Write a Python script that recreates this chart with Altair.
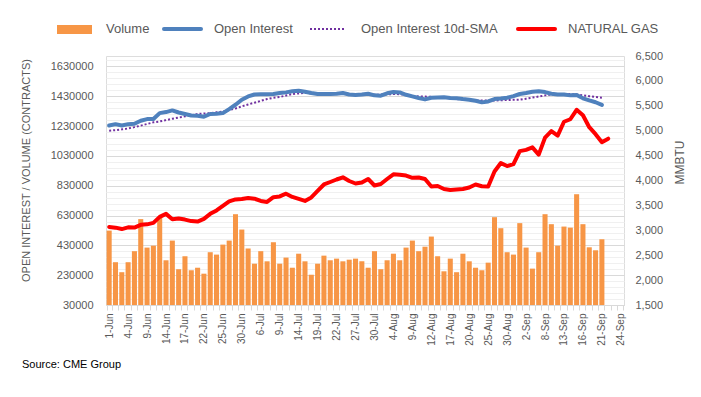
import json
import altair as alt
import pandas as pd

# ---------------- data ----------------
trading_days = [
    "1-Jun", "2-Jun", "3-Jun", "4-Jun", "7-Jun", "8-Jun", "9-Jun", "10-Jun", "11-Jun",
    "14-Jun", "15-Jun", "16-Jun", "17-Jun", "18-Jun", "21-Jun", "22-Jun", "23-Jun",
    "24-Jun", "25-Jun", "28-Jun", "29-Jun", "30-Jun",
    "1-Jul", "2-Jul", "6-Jul", "7-Jul", "8-Jul", "9-Jul", "12-Jul", "13-Jul", "14-Jul",
    "15-Jul", "16-Jul", "19-Jul", "20-Jul", "21-Jul", "22-Jul", "23-Jul", "26-Jul",
    "27-Jul", "28-Jul", "29-Jul", "30-Jul",
    "2-Aug", "3-Aug", "4-Aug", "5-Aug", "6-Aug", "9-Aug", "10-Aug", "11-Aug", "12-Aug",
    "13-Aug", "16-Aug", "17-Aug", "18-Aug", "19-Aug", "20-Aug", "23-Aug", "24-Aug",
    "25-Aug", "26-Aug", "27-Aug", "30-Aug", "31-Aug",
    "1-Sep", "2-Sep", "3-Sep", "7-Sep", "8-Sep", "9-Sep", "10-Sep", "13-Sep", "14-Sep",
    "15-Sep", "16-Sep", "17-Sep", "20-Sep", "21-Sep", "22-Sep", "23-Sep", "24-Sep",
]

tick_labels = [
    "1-Jun", "4-Jun", "9-Jun", "14-Jun", "17-Jun", "22-Jun", "25-Jun", "30-Jun",
    "6-Jul", "9-Jul", "14-Jul", "19-Jul", "22-Jul", "27-Jul", "30-Jul",
    "4-Aug", "9-Aug", "12-Aug", "17-Aug", "20-Aug", "25-Aug", "30-Aug",
    "2-Sep", "8-Sep", "13-Sep", "16-Sep", "21-Sep", "24-Sep",
]

series_names = ["Volume", "Open Interest", "Open Interest 10d-SMA", "NATURAL GAS"]

volume = [
    529000, 317000, 250000, 317000, 391000, 606000, 415000, 428000, 621000, 330000,
    462000, 270000, 357000, 263000, 280000, 240000, 384000, 368000, 435000, 462000,
    639000, 536000, 409000, 307000, 391000, 323000, 451000, 307000, 348000, 280000,
    374000, 323000, 233000, 307000, 361000, 330000, 341000, 323000, 334000, 341000,
    323000, 280000, 391000, 270000, 330000, 374000, 330000, 415000, 462000, 391000,
    421000, 489000, 357000, 256000, 341000, 250000, 374000, 323000, 280000, 263000,
    314000, 619000, 545000, 384000, 368000, 579000, 415000, 274000, 384000, 639000,
    572000, 428000, 556000, 549000, 773000, 572000, 417000, 397000, 471000,
]

open_interest = [
    1234000, 1243000, 1234000, 1243000, 1246000, 1266000, 1277000, 1277000, 1317000, 1324000,
    1335000, 1321000, 1311000, 1301000, 1299000, 1293000, 1311000, 1313000, 1317000, 1344000,
    1373000, 1407000, 1429000, 1442000, 1443000, 1443000, 1445000, 1452000, 1456000, 1463000,
    1467000, 1460000, 1452000, 1445000, 1445000, 1445000, 1447000, 1452000, 1442000, 1438000,
    1442000, 1447000, 1436000, 1434000, 1450000, 1458000, 1456000, 1440000, 1429000, 1418000,
    1409000, 1420000, 1422000, 1424000, 1418000, 1417000, 1411000, 1407000, 1400000, 1389000,
    1395000, 1411000, 1415000, 1420000, 1431000, 1445000, 1452000, 1460000, 1463000, 1458000,
    1447000, 1442000, 1442000, 1436000, 1438000, 1416000, 1402000, 1390000, 1372000,
]

oi_sma = [
    1199000, 1203000, 1208000, 1214000, 1223000, 1233000, 1244000, 1255000, 1261000, 1270000,
    1279000, 1287000, 1295000, 1303000, 1311000, 1314000, 1317000, 1322000, 1327000, 1338000,
    1348000, 1362000, 1375000, 1387000, 1399000, 1411000, 1420000, 1425000, 1435000, 1445000,
    1449000, 1452000, 1450000, 1447000, 1447000, 1448000, 1446000, 1446000, 1445000, 1445000,
    1444000, 1442000, 1440000, 1441000, 1443000, 1445000, 1444000, 1438000, 1432000, 1429000,
    1428000, 1426000, 1425000, 1420000, 1416000, 1412000, 1408000, 1405000, 1402000, 1402000,
    1402000, 1402000, 1403000, 1405000, 1406000, 1407000, 1414000, 1421000, 1428000, 1436000,
    1442000, 1444000, 1445000, 1445000, 1442000, 1437000, 1430000, 1425000, 1420000,
]

natural_gas = [
    3067, 3053, 3025, 3060, 3055, 3110, 3120, 3150, 3270, 3330,
    3220, 3235, 3215, 3185, 3175, 3230, 3330, 3400, 3490, 3580,
    3620, 3630, 3650, 3635, 3590, 3570, 3665, 3680, 3735, 3670,
    3630, 3590, 3660, 3790, 3920, 3970, 4020, 4065, 3990, 3940,
    3960, 4030, 3900, 3930, 4030, 4125, 4115, 4100, 4055, 4060,
    4030, 3880, 3890, 3830, 3810, 3820, 3830, 3860, 3920, 3885,
    3880, 4180, 4350, 4290, 4330, 4590, 4615, 4665, 4520, 4860,
    4990, 4900, 5180, 5230, 5420, 5310, 5070, 4930, 4770, 4840,
]

left_major_ticks = [30000, 230000, 430000, 630000, 830000, 1030000, 1230000, 1430000, 1630000]
right_ticks = [1500, 2000, 2500, 3000, 3500, 4000, 4500, 5000, 5500, 6000, 6500]

# ---------------- frames ----------------
n = len(volume)
df_main = pd.DataFrame({
    "date": trading_days[:n],
    "idx": list(range(n)),
    "Volume": volume,
    "OI": open_interest,
    "SMA": oi_sma,
})
m = len(natural_gas)
df_ng = pd.DataFrame({"date": trading_days[:m], "idx": list(range(m)), "NG": natural_gas})

# ---------------- styling ----------------
FONT = "Liberation Sans"
GREY = "#595959"
ORANGE = "#F79646"
BLUE = "#4F81BD"
PURPLE = "#7030A0"
RED = "#FF0000"

label_expr = "indexof(" + json.dumps(tick_labels) + ", datum.value) >= 0 ? datum.value : ''"

x_enc = alt.X(
    "date:N",
    sort=trading_days,
    scale=alt.Scale(domain=trading_days, paddingInner=0.2, paddingOuter=0.1),
    axis=alt.Axis(
        labelExpr=label_expr, labelAngle=270, labelFontSize=10, labelColor=GREY,
        labelPadding=3, labelOverlap=False, labelFont=FONT,
        ticks=True, tickBand="extent", tickColor="#d9d9d9", tickSize=5,
        domainColor="#d9d9d9", grid=False, title=None,
    ),
)

minor_vals = list(range(30000, 1700001, 40000))
major_test = "indexof(" + json.dumps(left_major_ticks) + ", datum.value) >= 0"
left_axis = alt.Axis(
    values=minor_vals,
    format="d",
    labelExpr=major_test + " ? datum.label : ''",
    gridColor={"condition": {"test": major_test, "value": "#d9d9d9"}, "value": "#f0f0f0"},
    grid=True, ticks=False, domain=False,
    labelFontSize=11, labelColor=GREY, labelPadding=13, labelFont=FONT,
    title="OPEN INTEREST / VOLUME (CONTRACTS)", titleFontSize=11, titleFontWeight="normal",
    titleColor=GREY, titleFont=FONT, titleAngle=270, titleBaseline="top", titleAlign="center",
    titleX=-86, titleY=114,
)
left_scale = alt.Scale(domain=[30000, 1700000], nice=False, zero=False)

bars = alt.Chart(df_main).mark_bar(color=ORANGE, clip=True).encode(
    x=x_enc,
    y=alt.Y("Volume:Q", scale=left_scale, axis=left_axis),
)
oi_line = alt.Chart(df_main).mark_line(color=BLUE, strokeWidth=4, strokeCap="round", strokeJoin="round").encode(
    x=x_enc,
    y=alt.Y("OI:Q", scale=left_scale, axis=left_axis),
    order=alt.Order("idx:Q"),
)
sma_line = alt.Chart(df_main).mark_line(color=PURPLE, strokeWidth=2, strokeDash=[2, 2]).encode(
    x=x_enc,
    y=alt.Y("SMA:Q", scale=left_scale, axis=left_axis),
    order=alt.Order("idx:Q"),
)
left_group = alt.layer(bars, sma_line, oi_line)

ng_line = alt.Chart(df_ng).mark_line(color=RED, strokeWidth=4, strokeCap="round", strokeJoin="round").encode(
    x=x_enc,
    y=alt.Y(
        "NG:Q",
        scale=alt.Scale(domain=[1500, 6500], nice=False, zero=False),
        axis=alt.Axis(
            orient="right", values=right_ticks, format=",d", grid=False, ticks=False, domain=False,
            labelFontSize=11, labelColor=GREY, labelPadding=11, labelFont=FONT,
            title="MMBTU", titleFontSize=12, titleFontWeight="normal", titleColor=GREY, titleFont=FONT,
            titleAngle=270, titleBaseline="top", titleAlign="center", titleX=50, titleY=106,
        ),
    ),
    order=alt.Order("idx:Q"),
)

# ---------------- legend (manual) ----------------
one = pd.DataFrame({"k": [0]})
LY = -27
leg_rect = alt.Chart(one).mark_rect(color=ORANGE).encode(
    x=alt.value(-49), x2=alt.value(-14), y=alt.value(LY - 4), y2=alt.value(LY + 5))
leg_blue = alt.Chart(one).mark_rule(color=BLUE, strokeWidth=4, strokeCap="round").encode(
    x=alt.value(58), x2=alt.value(95), y=alt.value(LY))
leg_sma = alt.Chart(one).mark_rule(color=PURPLE, strokeWidth=2, strokeDash=[2, 2]).encode(
    x=alt.value(204), x2=alt.value(239), y=alt.value(LY))
leg_red = alt.Chart(one).mark_rule(color=RED, strokeWidth=4, strokeCap="round").encode(
    x=alt.value(412), x2=alt.value(449), y=alt.value(LY))

def leg_text(label, xpos):
    return alt.Chart(pd.DataFrame({"t": [label]})).mark_text(
        align="left", baseline="middle", fontSize=13, color=GREY, font=FONT
    ).encode(text="t:N", x=alt.value(xpos), y=alt.value(LY))

texts = [leg_text(series_names[0], 0), leg_text(series_names[1], 108),
         leg_text(series_names[2], 255), leg_text(series_names[3], 462)]

source = alt.Chart(pd.DataFrame({"t": ["Source: CME Group"]})).mark_text(
    align="left", baseline="middle", fontSize=11, color="#000000", font=FONT
).encode(text="t:N", x=alt.value(-84), y=alt.value(309))

chart = alt.layer(
    left_group, ng_line, leg_rect, leg_blue, leg_sma, leg_red, *texts, source
).resolve_scale(y="independent").properties(
    width=518, height=249,
    padding={"left": 98, "top": 48, "right": 68, "bottom": 75},
    autosize=alt.AutoSizeParams(type="none"),
).configure_view(stroke=None).configure(font=FONT)

chart.save("out.html", embed_options={"renderer": "svg", "actions": False})
